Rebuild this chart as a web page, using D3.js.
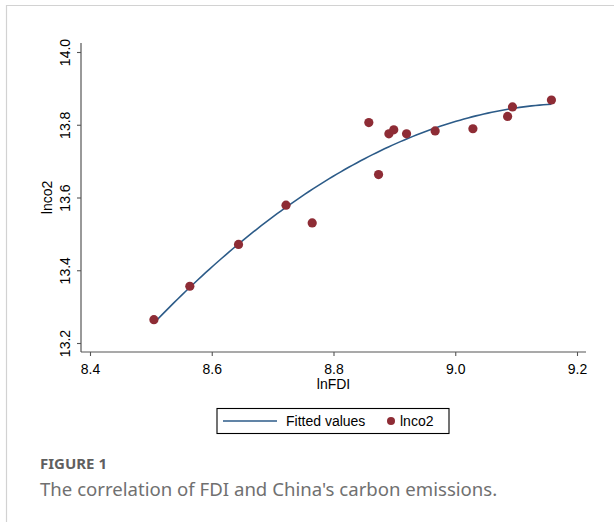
<!DOCTYPE html>
<html><head><meta charset="utf-8">
<script src="https://cdn.jsdelivr.net/npm/d3@7"></script>
<style>html,body{margin:0;padding:0;background:#fff;}svg{display:block;}</style>
</head><body>
<script>
// Data
const lnFDI = [8.505, 8.564, 8.644, 8.722, 8.765, 8.858, 8.874, 8.891, 8.899, 8.920, 8.967, 9.029, 9.086, 9.094, 9.158];
const lnco2 = [13.264, 13.356, 13.471, 13.579, 13.530, 13.806, 13.663, 13.775, 13.786, 13.775, 13.783, 13.789, 13.823, 13.849, 13.868];
const xTicks = [8.4, 8.6, 8.8, 9.0, 9.2];
const yTicks = [13.2, 13.4, 13.6, 13.8, 14.0];
const xTitle = "lnFDI", yTitle = "lnco2";
const legendLabels = ["Fitted values", "lnco2"];
const figLabel = "FIGURE 1";
const caption = "The correlation of FDI and China's carbon emissions.";

// Quadratic least-squares fit (Stata qfit) of lnco2 on lnFDI
function qfit(xs, ys) {
  const n = xs.length, m = d3.mean(xs);
  const u = xs.map(v => v - m);
  const S = k => d3.sum(u, v => Math.pow(v, k));
  const Sy = k => d3.sum(u, (v, i) => Math.pow(v, k) * ys[i]);
  const A = [[n, S(1), S(2)], [S(1), S(2), S(3)], [S(2), S(3), S(4)]];
  const b = [Sy(0), Sy(1), Sy(2)];
  for (let i = 0; i < 3; i++) {
    for (let j = i + 1; j < 3; j++) {
      const f = A[j][i] / A[i][i];
      for (let k = i; k < 3; k++) A[j][k] -= f * A[i][k];
      b[j] -= f * b[i];
    }
  }
  const c = [0, 0, 0];
  for (let i = 2; i >= 0; i--) {
    let s = b[i];
    for (let k = i + 1; k < 3; k++) s -= A[i][k] * c[k];
    c[i] = s / A[i][i];
  }
  return x => c[0] + c[1] * (x - m) + c[2] * (x - m) * (x - m);
}

const W = 614, H = 522;
const svg = d3.select("body").append("svg").attr("width", W).attr("height", H);

// panel frame
svg.append("path").attr("d", "M6.5,522 V5.5 H614").attr("fill", "none")
  .attr("stroke", "#d2d2d2").attr("stroke-width", 1.2);

const x = d3.scaleLinear().domain([8.4, 9.2]).range([90, 577]);
const y = d3.scaleLinear().domain([13.2, 14.0]).range([343, 52]);
const plotL = 81, plotR = 586, plotT = 43, plotB = 352;

const axisColor = "#555";
const font = "'Liberation Sans', Arial, sans-serif";

// x axis
const gx = svg.append("g").attr("transform", `translate(0,${plotB})`)
  .call(d3.axisBottom(x).tickValues(xTicks).tickFormat(d3.format(".1f")).tickSize(4).tickPadding(3));
gx.select(".domain").attr("d", `M${plotL},0H${plotR}`);
// y axis
const gy = svg.append("g").attr("transform", `translate(${plotL},0)`)
  .call(d3.axisLeft(y).tickValues(yTicks).tickFormat(d3.format(".1f")).tickSize(4));
gy.select(".domain").attr("d", `M0,${plotT}V${plotB}`);

[gx, gy].forEach(g => {
  g.selectAll(".domain").attr("stroke", axisColor).attr("stroke-width", 1.2);
  g.selectAll(".tick line").attr("stroke", axisColor).attr("stroke-width", 1.1);
  g.selectAll("text").attr("fill", "#000").style("font-family", font).style("font-size", "14px");
});
gx.selectAll("text").attr("dy", null).attr("y", 0)
  .attr("transform", "translate(0,22)");
gy.selectAll("text").attr("x", null).attr("dy", null).attr("text-anchor", "middle")
  .attr("transform", "translate(-11,0) rotate(-90)");

// axis titles
svg.append("text").attr("x", (x(8.4) + x(9.2)) / 2).attr("y", 389).attr("text-anchor", "middle")
  .style("font-family", font).style("font-size", "14px").text(xTitle);
svg.append("text").attr("transform", `translate(52,${y(13.6)}) rotate(-90)`).attr("text-anchor", "middle")
  .style("font-family", font).style("font-size", "14px").text(yTitle);

// fitted curve
const f = qfit(lnFDI, lnco2);
const x0 = d3.min(lnFDI), x1 = d3.max(lnFDI);
const fitPts = d3.range(0, 101).map(i => { const xv = x0 + (x1 - x0) * i / 100; return [xv, f(xv)]; });
const lineColor = "#2c5b88", dotColor = "#8e2c35";
svg.append("path").datum(fitPts)
  .attr("d", d3.line().x(d => x(d[0])).y(d => y(d[1])).curve(d3.curveLinear))
  .attr("fill", "none").attr("stroke", lineColor).attr("stroke-width", 1.6);

// points
svg.append("g").selectAll("circle").data(lnFDI.map((v, i) => [v, lnco2[i]])).join("circle")
  .attr("cx", d => x(d[0])).attr("cy", d => y(d[1])).attr("r", 4.6).attr("fill", dotColor);

// legend
const lg = svg.append("g");
lg.append("rect").attr("x", 217).attr("y", 408.5).attr("width", 232).attr("height", 25)
  .attr("fill", "#fff").attr("stroke", "#000").attr("stroke-width", 1.1);
lg.append("line").attr("x1", 223).attr("x2", 277).attr("y1", 421).attr("y2", 421)
  .attr("stroke", lineColor).attr("stroke-width", 1.6);
lg.append("text").attr("x", 286).attr("y", 426).style("font-family", font).style("font-size", "14px").text(legendLabels[0]);
lg.append("circle").attr("cx", 391).attr("cy", 421).attr("r", 4).attr("fill", dotColor);
lg.append("text").attr("x", 400).attr("y", 426).style("font-family", font).style("font-size", "14px").text(legendLabels[1]);

// caption
svg.append("text").attr("x", 40).attr("y", 469).attr("fill", "#5f5f5f")
  .style("font-family", "'Noto Sans', 'Open Sans', sans-serif").style("font-size", "15px").style("font-weight", "bold")
  .text(figLabel);
svg.append("text").attr("x", 40).attr("y", 496).attr("fill", "#707070")
  .style("font-family", "'Noto Sans', 'Open Sans', sans-serif").style("font-size", "18.6px")
  .text(caption);
</script>
</body></html>
